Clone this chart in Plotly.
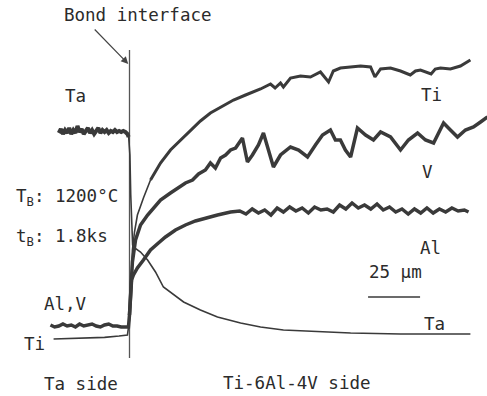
import plotly.graph_objects as go

# Distance from bond interface (µm) and X-ray intensity (a.u.)
ta_side_x = [-34, -33, -32, -31, -30, -29, -28, -27, -26, -25, -24, -23, -22, -21, -20, -19, -18, -17, -16, -15,
             -14, -13, -12, -11, -10, -9, -8, -7, -6, -5, -4, -3, -2, -1, -0.4]
ta_side_i = [106, 108, 105.5, 107.5, 106, 108.5, 105.5, 107.5, 106, 109.5, 106.5, 108, 105.5, 107.5, 108.5, 106,
             107.5, 105.5, 107, 108.5, 106, 107.5, 106.5, 107.5, 106, 107, 106.5, 107.5, 106.5, 107, 106.5, 107,
             106.5, 105.5, 104]

ta_diff_x = [-0.4, 0.2, 0.6, 1.0, 1.5, 2.5, 5.3, 8.7, 12.5, 16.3, 21.2, 26.0, 34.1, 42.3, 53.4, 63.0, 74.0, 95.0, 106.3, 130.3, 163.9]
ta_diff_i = [104, 95, 75, 57, 50, 48.5, 46.5, 42.5, 36.5, 29, 25, 21.5, 17.5, 14, 11, 9, 7.5, 6.5, 6, 5.5, 5.5]

ti_base_x = [-36.5, -28, -20, -12, -5, -1, 0, 0.5, 1.0, 1.4, 2.4, 3.8, 6.7, 10.1]
ti_base_i = [3, 3.2, 3.5, 3.8, 4.5, 5, 12.5, 25, 37.5, 47.5, 56.5, 65, 73.5, 82.5]

ti_x = [10.1, 14.9, 19.7, 24.5, 29.3, 34.1, 38.9, 43.8, 50.0, 55.8, 63.0, 67.8, 70.0, 72.6, 74.0, 77.4, 82.2, 87.0,
        91.8, 95.7, 98.0, 101.4, 106.3, 111.1, 115.9, 118.0, 120.7, 125.5, 130.3, 135.0, 137.5, 139.9, 145.0,
        147.0, 149.5, 154.3, 159.1, 163.9]
ti_i = [82.5, 91, 97.5, 102.5, 107.5, 112, 116, 119, 122.5, 125, 128, 130.5, 128.5, 131, 129, 133.5, 134.5, 134,
        136.5, 131.5, 137, 138.5, 139, 139.5, 139, 134, 138, 138.5, 137, 135, 137, 137.5, 135.5, 138,
        138.5, 138, 139.5, 142.5]

v_x = [-38, -36, -34, -32, -30, -28, -26, -24, -22, -20, -18, -16, -14, -12, -10, -8, -6, -4, -2, -0.5,
       0, 0.5, 1.4, 2.9, 5.3, 8.7, 12.5, 14.9, 19.7, 23.6,
       26.9, 30.3, 33.2, 36.5, 38.9, 41.3, 43.8, 46.2, 48.6, 51.0, 54.3, 56.7, 59.1, 62.0, 64.4, 66.8, 69.2,
       72.6, 77.4, 81.3, 85.6, 89.4, 92.8, 96.6, 99.0, 101.4, 103.8, 106.3, 109.6, 113.5, 117.3, 120.7,
       125.5, 130.3, 134.1, 138.5, 142.3, 146.2, 151.0, 154.3, 157.7, 161.5, 165.4, 168.8, 172.1]
v_i = [10, 9, 9.5, 10.5, 9.5, 10, 9, 10.5, 9.5, 10, 10.5, 9.5, 9, 10, 10.5, 9.5, 9.5, 9, 9, 9,
       15, 27.5, 41.5, 52.5, 60, 65, 70, 72.5, 76, 78.5,
       81, 82.5, 85.5, 87.5, 91, 88.5, 93.5, 95, 97.5, 98.5, 103.5, 91.5, 95, 100, 106, 97.5, 89,
       95, 99, 97.5, 94, 100, 105, 107.5, 102.5, 102.5, 97.5, 94, 108.5, 105, 102.5, 106.5,
       104, 97.5, 102.5, 106, 102.5, 101, 111, 107.5, 104, 107.5, 109, 111.5, 114]

al_x = [0, 0.5, 1.0, 1.9, 3.8, 6.7, 10.1, 13.9, 17.3, 22.1, 26.9, 31.7, 36.5, 42.3, 48.6, 53, 56, 59, 62, 65, 68,
        71, 74, 77, 80, 83, 86, 89, 92, 95, 98, 101, 104, 107, 110, 113, 116, 119, 122, 125, 128, 131, 134,
        137, 140, 143, 146, 149, 152, 155, 158, 161, 163]
al_i = [15, 27.5, 32.5, 35, 38.5, 42.5, 47.5, 51, 54, 57.5, 60, 62, 63.5, 65, 66.5, 67, 65.5, 68, 66, 67.5, 65,
        68.5, 66.5, 69, 67, 68.5, 66, 69, 67.5, 68, 66.5, 70, 68, 71, 68.5, 70, 68, 70.5, 67.5, 69, 66.5, 68,
        65.5, 68, 66, 68.5, 66, 68, 66.5, 68.5, 67, 67.5, 66.5]

interface_x = [0, 0]
interface_i = [147.5, -6.5]

scale_x = [114.7, 139.7]   # 25 µm scale bar
scale_i = [24, 24]

LINE = "#3a3a3a"
TXT = "#2b2b2b"

fig = go.Figure()
fig.add_trace(go.Scatter(x=interface_x, y=interface_i, mode="lines", line=dict(color="#555", width=1.3)))
fig.add_trace(go.Scatter(x=ta_side_x, y=ta_side_i, mode="lines", line=dict(color=LINE, width=4)))
fig.add_trace(go.Scatter(x=ta_diff_x, y=ta_diff_i, mode="lines", line=dict(color=LINE, width=1.6)))
fig.add_trace(go.Scatter(x=ti_base_x, y=ti_base_i, mode="lines", line=dict(color=LINE, width=1.6)))
fig.add_trace(go.Scatter(x=ti_x, y=ti_i, mode="lines", line=dict(color=LINE, width=3)))
fig.add_trace(go.Scatter(x=v_x, y=v_i, mode="lines", line=dict(color=LINE, width=3.5)))
fig.add_trace(go.Scatter(x=al_x, y=al_i, mode="lines", line=dict(color=LINE, width=3.5)))
fig.add_trace(go.Scatter(x=scale_x, y=scale_i, mode="lines", line=dict(color=LINE, width=1.5)))

F = dict(family="DejaVu Sans Mono", size=17.5, color=TXT)
labels = [
    ("Bond interface", 4.1, 165, "center"),
    ("Ta", -26.2, 124.5, "center"),
    ("Ti", 145.4, 125, "center"),
    ("V", 143.5, 86.5, "center"),
    ("Al", 144.5, 48.5, "center"),
    ("25 µm", 128.1, 36.5, "center"),
    ("Ta", 146.4, 10.5, "center"),
    ("Ti-6Al-4V side", 80.5, -19, "center"),
    ("Ta side", -23.3, -19.5, "center"),
    ("Al,V", -31.0, 20.5, "center"),
    ("Ti", -45.9, 0.5, "center"),
    ("T<sub>B</sub>: 1200°C", -55.5, 74, "left"),
    ("t<sub>B</sub>: 1.8ks", -55.5, 54, "left"),
]
for t, x, y, xa in labels:
    fig.add_annotation(x=x, y=y, text=t, showarrow=False, xanchor=xa, yanchor="middle", font=F)

# arrow pointing to the interface
fig.add_annotation(x=-0.6, y=140.5, ax=-35, ay=-36, text="", showarrow=True,
                   arrowhead=2, arrowsize=1.2, arrowwidth=1.2, arrowcolor="#444")

fig.update_layout(
    width=487, height=396, margin=dict(l=0, r=0, t=0, b=0),
    paper_bgcolor="white", plot_bgcolor="white", showlegend=False,
    xaxis=dict(range=[-62.26, 171.88], visible=False, fixedrange=True),
    yaxis=dict(range=[-25.5, 172.5], visible=False, fixedrange=True),
)
fig.write_html("out.html")
